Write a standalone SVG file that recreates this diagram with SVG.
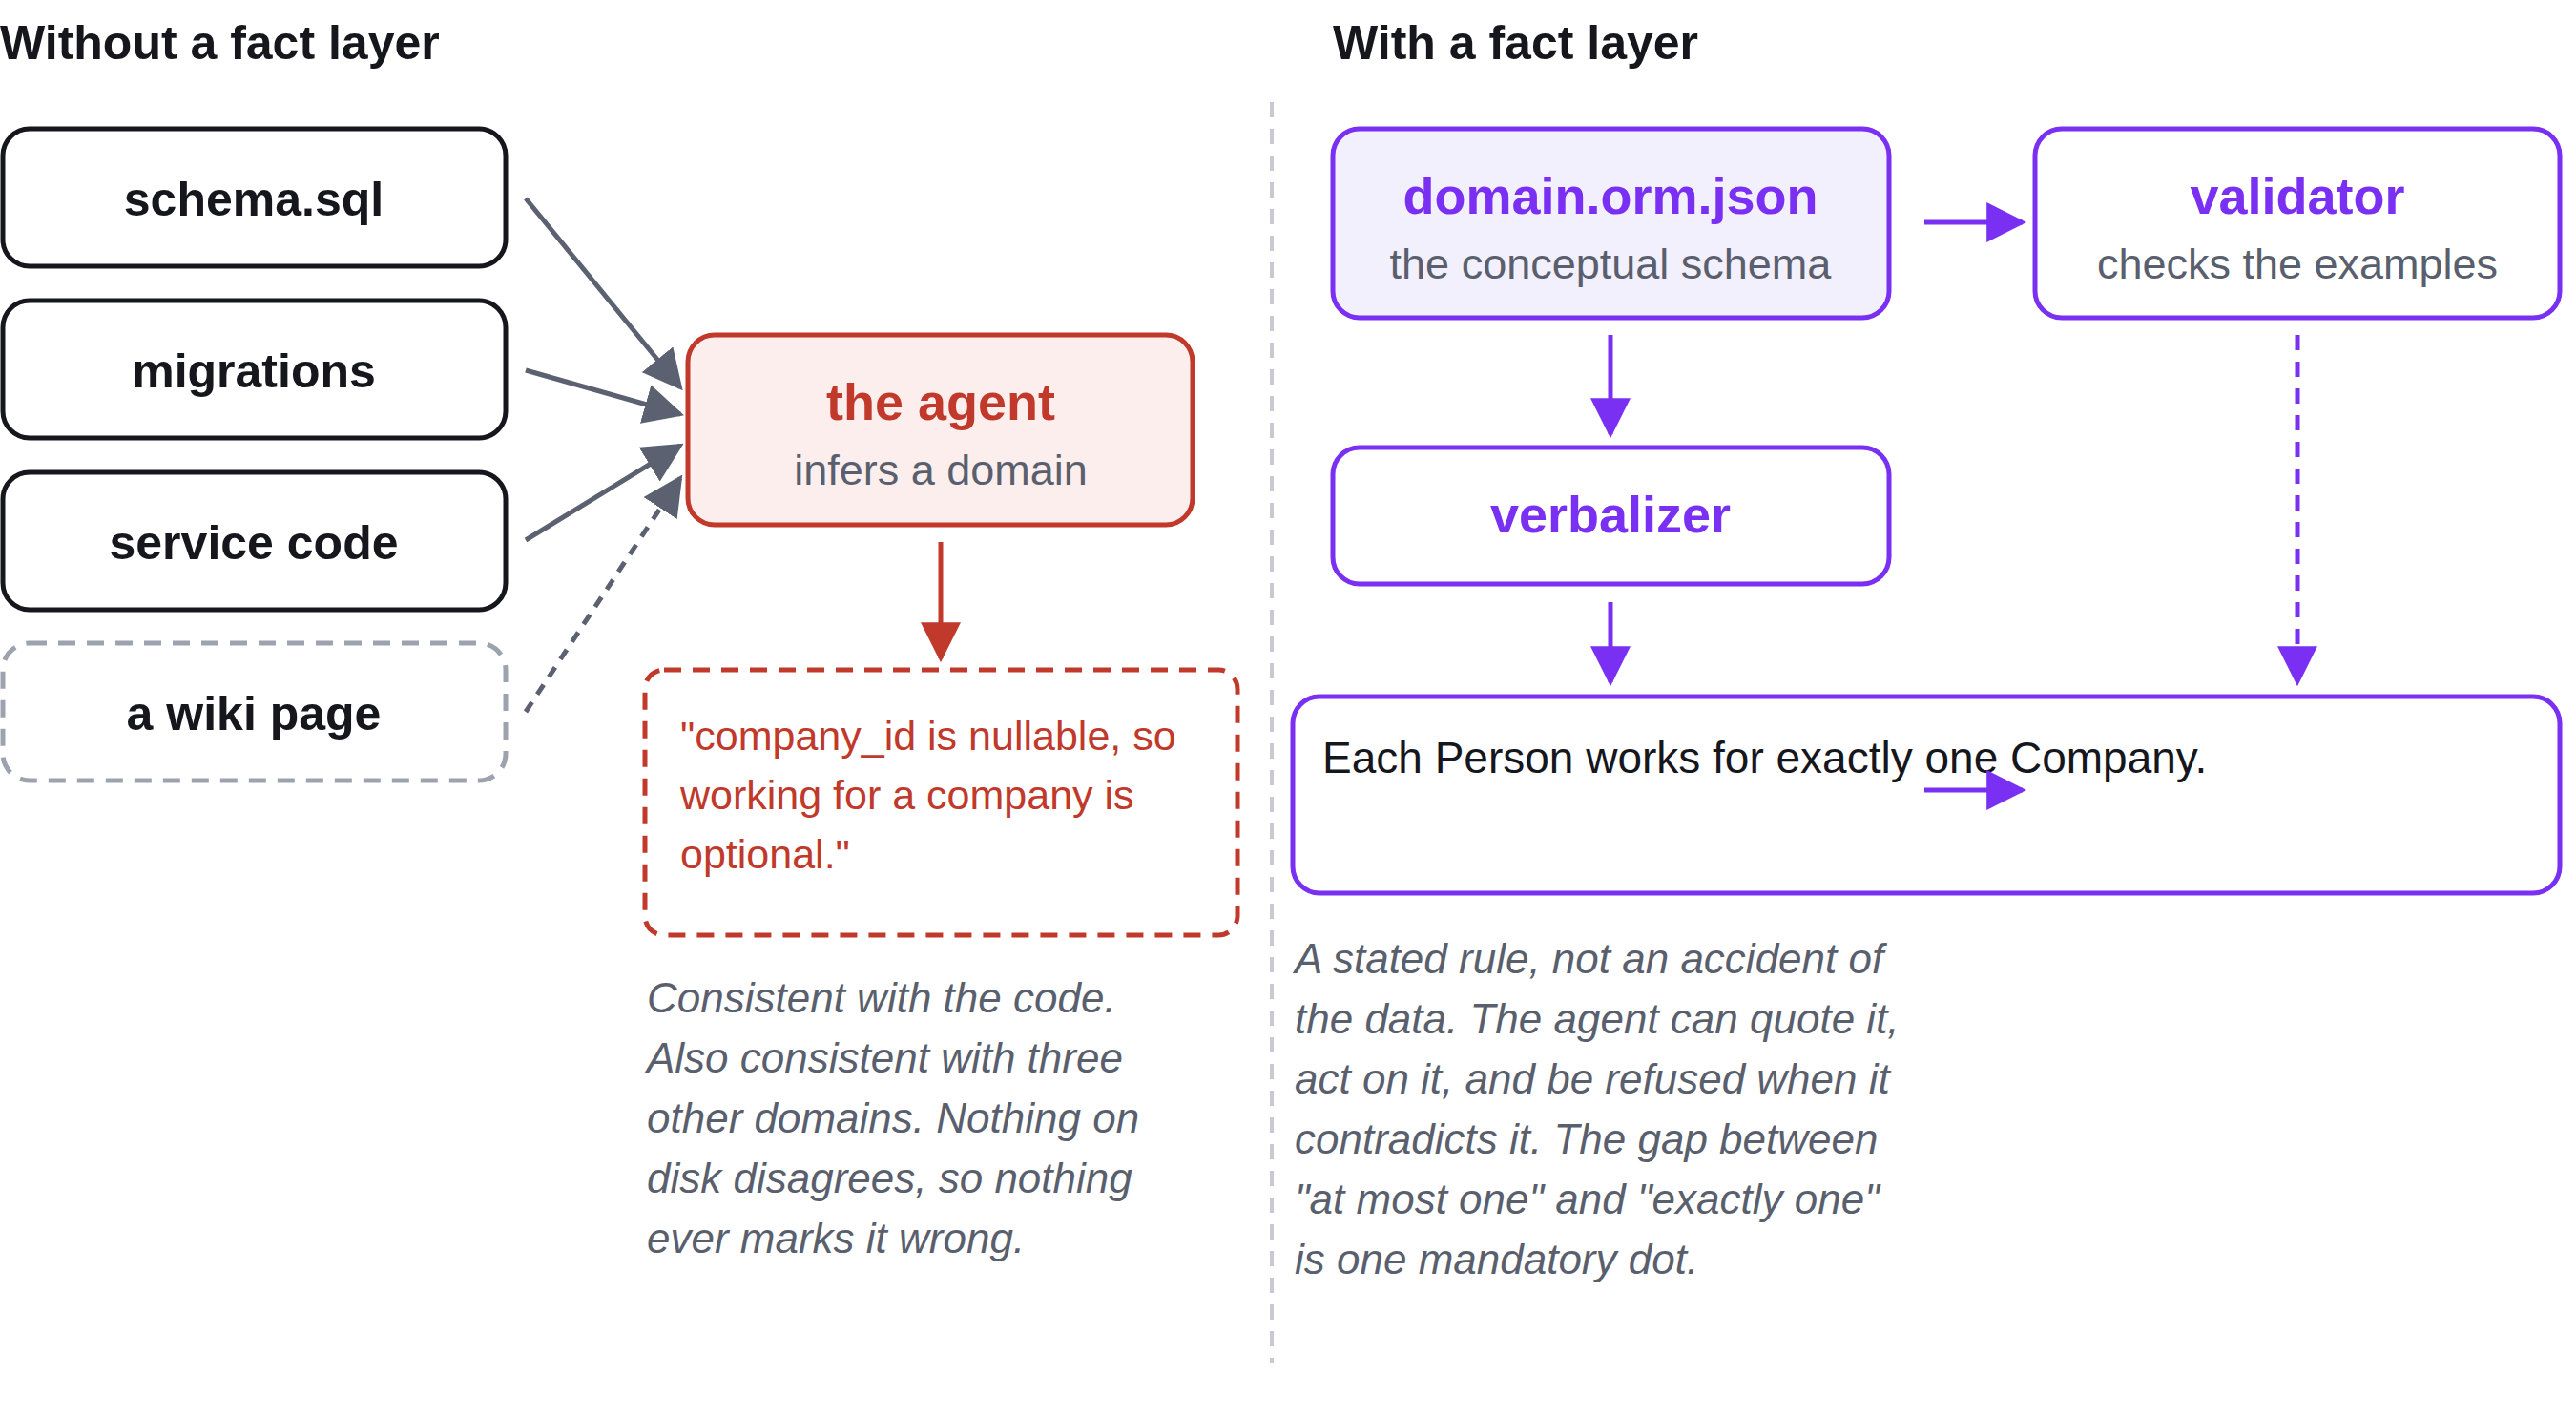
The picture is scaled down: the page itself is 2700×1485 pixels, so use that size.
<svg xmlns="http://www.w3.org/2000/svg" width="2700" height="1485" viewBox="0 0 2700 1485">
<style>
text{font-family:"Liberation Sans",Arial,sans-serif}
.t{font-size:50px;font-weight:bold;fill:#16161d}
.b{font-size:50px;font-weight:bold;fill:#16161d;text-anchor:middle}
.sub{font-size:45px;fill:#5a5f6e;text-anchor:middle}
.p{font-size:54px;font-weight:bold;fill:#7a30f2;text-anchor:middle}
.cap{font-size:44px;font-style:italic;fill:#5a5f6e}
.blk{fill:#fff;stroke:#16161d;stroke-width:5}
.pur{fill:#fff;stroke:#7a30f2;stroke-width:5}
.ga{stroke:#5b6170;stroke-width:5;fill:none;marker-end:url(#g)}
.pa{stroke:#7a30f2;stroke-width:5;fill:none;marker-end:url(#pm)}
</style>
<defs>
<marker id="g" viewBox="0 0 10 10" refX="9" refY="5" markerWidth="9" markerHeight="9" orient="auto" markerUnits="userSpaceOnUse"><path d="M0,0L10,5L0,10z" fill="#5b6170" transform="scale(1)"/></marker>
<marker id="pm" viewBox="0 0 10 10" refX="9" refY="5" markerWidth="42" markerHeight="42" orient="auto" markerUnits="userSpaceOnUse"><path d="M0,0L10,5L0,10z" fill="#7a30f2"/></marker>
<marker id="rm" viewBox="0 0 10 10" refX="9" refY="5" markerWidth="42" markerHeight="42" orient="auto" markerUnits="userSpaceOnUse"><path d="M0,0L10,5L0,10z" fill="#c0392b"/></marker>
<marker id="gm" viewBox="0 0 10 10" refX="9" refY="5" markerWidth="42" markerHeight="42" orient="auto" markerUnits="userSpaceOnUse"><path d="M0,0L10,5L0,10z" fill="#5b6170"/></marker>
</defs>
<text class="t" x="0" y="62">Without a fact layer</text>
<text class="t" x="1397" y="62">With a fact layer</text>
<line x1="1333" y1="107" x2="1333" y2="1428" stroke="#c8cad0" stroke-width="4" stroke-dasharray="16,12"/>

<g id="schema"><rect class="blk" x="3" y="135" width="527" height="144" rx="28"/><text class="b" x="266" y="226">schema.sql</text></g>
<g id="migrations"><rect class="blk" x="3" y="315" width="527" height="144" rx="28"/><text class="b" x="266" y="406">migrations</text></g>
<g id="service"><rect class="blk" x="3" y="495" width="527" height="144" rx="28"/><text class="b" x="266" y="586">service code</text></g>
<g id="wiki"><rect x="3" y="674" width="527" height="144" rx="28" fill="#fff" stroke="#9ca3af" stroke-width="5" stroke-dasharray="18,12"/><text class="b" x="266" y="765">a wiki page</text></g>
<g id="agent"><rect x="721" y="351" width="529" height="199" rx="28" fill="#fdeeee" stroke="#c0392b" stroke-width="5"/><text x="986" y="440" font-size="54" font-weight="bold" fill="#c0392b" text-anchor="middle">the agent</text><text class="sub" x="986" y="508">infers a domain</text></g>
<g id="claim"><rect x="676" y="702" width="621" height="278" rx="20" fill="none" stroke="#c0392b" stroke-width="5" stroke-dasharray="18,12"/>
<text font-size="43" fill="#c0392b"><tspan x="713" y="786">"company_id is nullable, so</tspan><tspan x="713" y="848">working for a company is</tspan><tspan x="713" y="910">optional."</tspan></text></g>
<g id="leftcap"><text class="cap"><tspan x="678" y="1061">Consistent with the code.</tspan><tspan x="678" y="1124">Also consistent with three</tspan><tspan x="678" y="1187">other domains. Nothing on</tspan><tspan x="678" y="1250">disk disagrees, so nothing</tspan><tspan x="678" y="1313">ever marks it wrong.</tspan></text></g>

<g id="domain"><rect x="1397" y="135" width="583" height="198" rx="28" fill="#f3f0fd" stroke="#7a30f2" stroke-width="5"/><text class="p" x="1688" y="224">domain.orm.json</text><text class="sub" x="1688" y="292">the conceptual schema</text></g>
<g id="validator"><rect class="pur" x="2133" y="135" width="550" height="198" rx="28"/><text class="p" x="2408" y="224" font-size="50">validator</text><text class="sub" x="2408" y="292" font-size="42">checks the examples</text></g>
<g id="verbalizer"><rect class="pur" x="1397" y="469" width="583" height="143" rx="28"/><text class="p" x="1688" y="558" font-size="50">verbalizer</text></g>
<g id="sentence"><rect class="pur" x="1355" y="730" width="1328" height="206" rx="28"/><text x="1386" y="810" font-size="46" fill="#16161d">Each Person works for exactly one Company.</text></g>
<g id="rightcap"><text class="cap"><tspan x="1357" y="1020">A stated rule, not an accident of</tspan><tspan x="1357" y="1083">the data. The agent can quote it,</tspan><tspan x="1357" y="1146">act on it, and be refused when it</tspan><tspan x="1357" y="1209">contradicts it. The gap between</tspan><tspan x="1357" y="1272">"at most one" and "exactly one"</tspan><tspan x="1357" y="1335">is one mandatory dot.</tspan></text></g>

<g id="connectors">
<line x1="551" y1="208" x2="713" y2="406" stroke="#5b6170" stroke-width="5" marker-end="url(#gm)"/>
<line x1="551" y1="388" x2="713" y2="434" stroke="#5b6170" stroke-width="5" marker-end="url(#gm)"/>
<line x1="551" y1="566" x2="713" y2="467" stroke="#5b6170" stroke-width="5" marker-end="url(#gm)"/>
<line x1="551" y1="746" x2="713" y2="501" stroke="#5b6170" stroke-width="5" stroke-dasharray="12,10" marker-end="url(#gm)"/>
<line x1="986" y1="568" x2="986" y2="690" stroke="#c0392b" stroke-width="5" marker-end="url(#rm)"/>
<line class="pa" x1="2017" y1="233" x2="2120" y2="233"/>
<line class="pa" x1="1688" y1="351" x2="1688" y2="455"/>
<line class="pa" x1="1688" y1="631" x2="1688" y2="715"/>
<line class="pa" x1="2408" y1="351" x2="2408" y2="715" stroke-dasharray="16,12"/>
<line class="pa" x1="2017" y1="828" x2="2120" y2="828"/>
</g>
</svg>
